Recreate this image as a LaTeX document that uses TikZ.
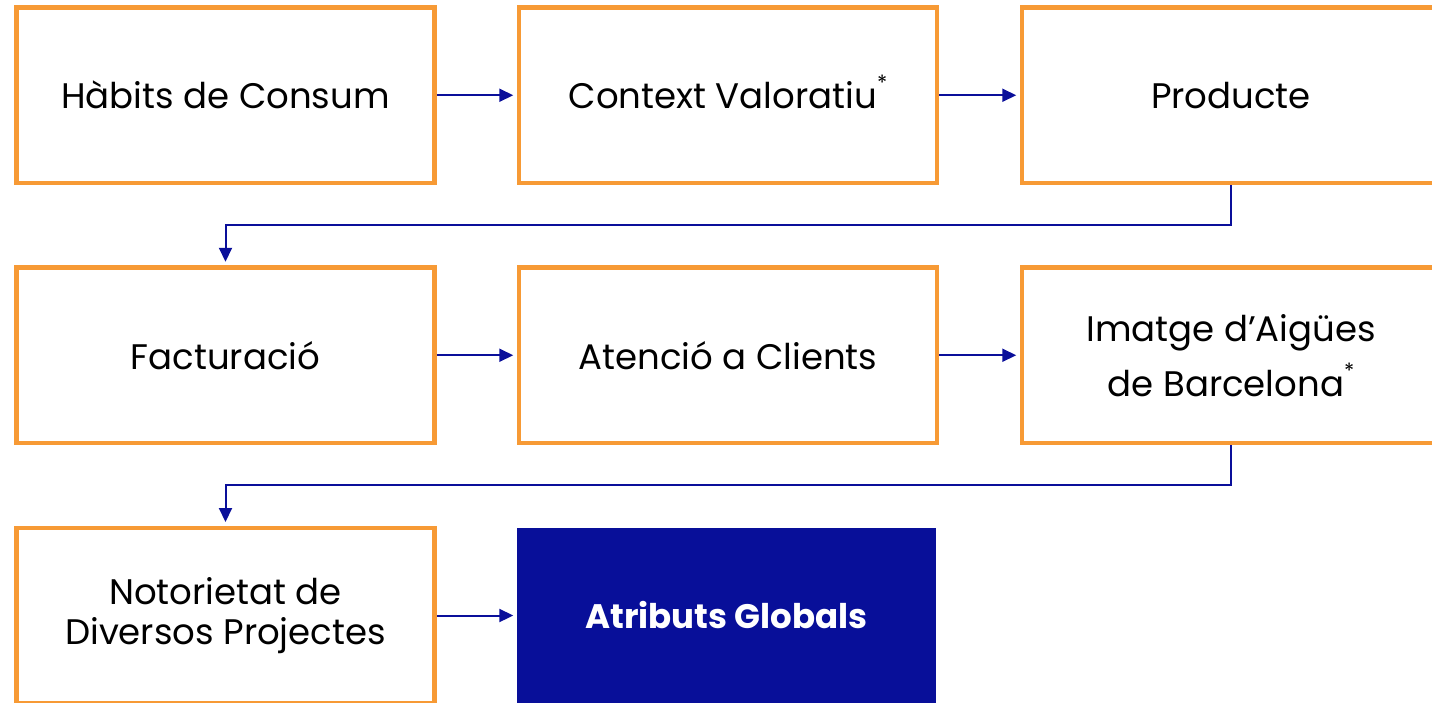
\documentclass[tikz,border=0pt]{standalone}
\usepackage{fontspec}
\setmainfont{Poppins}
\usetikzlibrary{arrows.meta}
\definecolor{boxorange}{HTML}{F79A35}
\definecolor{arrblue}{HTML}{0A0F9A}
\definecolor{globblue}{HTML}{080F99}
\newcommand{\supstar}{\smash{\raisebox{0.5em}{\fontsize{21}{21}\selectfont *}}}
\tikzset{
  stagebox/.style={draw=boxorange, line width=4.5pt, minimum width=418pt, minimum height=175.5pt,
    inner sep=0pt, align=center, font=\fontsize{35.5}{40}\selectfont, text=black},
  globbox/.style={fill=globblue, draw=none, minimum width=419pt, minimum height=175pt,
    inner sep=0pt, align=center, font=\fontsize{34}{40}\selectfont\bfseries, text=white},
  conn/.style={draw=arrblue, line width=2pt, -{Triangle[length=14pt,width=13pt]}, shorten >=3.5pt}
}
\begin{document}
\begin{tikzpicture}[x=1pt,y=-1pt]
\useasboundingbox (0,0) rectangle (1432,702);
\clip (0,0) rectangle (1432,702);
\node[stagebox] (b1) at (225.5,95.25) {Hàbits de Consum};
\node[stagebox] (b2) at (728,95.25) {Context Valoratiu\supstar};
\node[stagebox] (b3) at (1231,95.25) {Producte};
\node[stagebox] (b4) at (225.5,355.25) {Facturació};
\node[stagebox] (b5) at (728,355.25) {Atenció a Clients};
\node[stagebox, font=\fontsize{35.5}{55}\selectfont] (b6) at (1231,355.25) {Imatge d’Aigües\\de Barcelona\supstar};
\node[stagebox] (b7) at (225.5,615.5) {Notorietat de\\Diversos Projectes};
\node[globbox] (g) at (726.5,615.5) {Atributs Globals};
\coordinate (t1) at (1231,225);
\coordinate (t2) at (225.5,225);
\coordinate (t3) at (1231,485);
\coordinate (t4) at (225.5,485);
\draw[conn] (b1.east) -- (b2.west);
\draw[conn] (b2.east) -- (b3.west);
\draw[conn] (b3.south) -- (t1) -- (t2) -- (b4.north);
\draw[conn] (b4.east) -- (b5.west);
\draw[conn] (b5.east) -- (b6.west);
\draw[conn] (b6.south) -- (t3) -- (t4) -- (b7.north);
\draw[conn] (b7.east) -- (g.west);
\end{tikzpicture}
\end{document}
